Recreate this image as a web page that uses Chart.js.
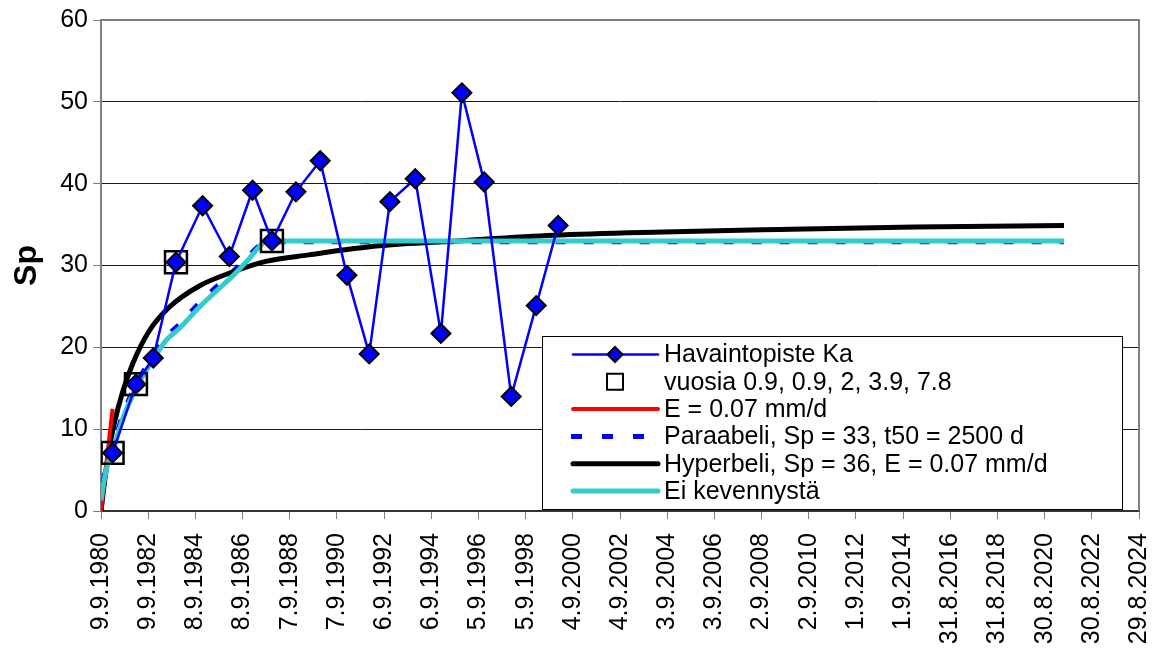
<!DOCTYPE html>
<html>
<head>
<meta charset="utf-8">
<script src="https://cdn.jsdelivr.net/npm/chart.js@4.4.1/dist/chart.umd.min.js"></script>
<style>
  html, body { margin: 0; padding: 0; background: #fff; }
  canvas { display: block; }
</style>
</head>
<body>
<canvas id="chart" width="1157" height="652"></canvas>
<script>
"use strict";

// x-akseli: vuorokausia 9.9.1980 jälkeen, jakoväli 730 d
const tickStep = 730;
const tickLabels = [
	"9.9.1980", "9.9.1982", "8.9.1984", "8.9.1986", "7.9.1988", "7.9.1990",
	"6.9.1992", "6.9.1994", "5.9.1996", "5.9.1998", "4.9.2000", "4.9.2002",
	"3.9.2004", "3.9.2006", "2.9.2008", "2.9.2010", "1.9.2012", "1.9.2014",
	"31.8.2016", "31.8.2018", "30.8.2020", "30.8.2022", "29.8.2024"
];

// Havaintopiste Ka
const obsDays = [179, 541, 809, 1160, 1572, 1985, 2345, 2645, 3016, 3392,
	3805, 4150, 4470, 4862, 5259, 5584, 5929, 6347, 6733, 7073];
const obsSp = [7.1, 15.5, 18.7, 30.4, 37.3, 31.1, 39.2, 33.0, 39.0, 42.8,
	28.8, 19.2, 37.8, 40.6, 21.7, 51.1, 40.2, 14.0, 25.1, 34.9];

// vuosia 0.9, 0.9, 2, 3.9, 7.8 (laatikot)
const boxDays = [179, 541, 1160, 2645];
const boxSp = [7.1, 15.5, 30.4, 33.0];

// E = 0.07 mm/d
const redDays = [0, 179];
const redSp = [0, 12.5];

// Paraabeli
const paraDays = [0, 50, 100, 179, 350, 541, 800, 1000, 1210, 1520, 1800, 2035, 2290, 2450, 2645, 14900];
const paraSp = [0, 4.2, 6.0, 7.8, 12.0, 15.4, 18.9, 21.2, 22.8, 25.4, 27.5, 29.2, 31.2, 32.4, 32.9, 32.9];

// Hyperbeli
const hypDays = [0, 30, 60, 128, 200, 333, 490, 745, 1055, 1520, 2035, 2550, 3220,
	4300, 5500, 7000, 8700, 10500, 12600, 14900];
const hypSp = [0, 2.0, 3.9, 7.6, 10.5, 14.5, 18.0, 22.0, 24.9, 27.5, 29.2, 30.5, 31.3,
	32.4, 33.0, 33.7, 34.1, 34.4, 34.7, 34.9];

// Ei kevennystä
const cyanDays = [0, 50, 100, 179, 350, 541, 800, 1000, 1210, 1520, 1800, 2035, 2290, 2450, 2560, 14900];
const cyanSp = [1.3, 3.8, 5.6, 7.3, 11.6, 15.0, 18.4, 20.8, 22.3, 24.9, 27.0, 28.7, 30.8, 32.3, 33.0, 33.0];

const FONT = "'Liberation Sans', Arial, sans-serif";

function pts(xs, ys) {
	return xs.map((x, i) => ({ x: x, y: ys[i] }));
}

// kuvaajan reunat
const frame = {
	id: 'frame',
	beforeDatasetsDraw(chart) {
		const a = chart.chartArea;
		const ctx = chart.ctx;
		ctx.save();
		ctx.strokeStyle = '#808080';
		ctx.lineWidth = 2;
		ctx.beginPath();
		ctx.moveTo(a.left, a.top);
		ctx.lineTo(a.right, a.top);
		ctx.lineTo(a.right, a.bottom);
		ctx.stroke();
		ctx.restore();
	}
};

// selite laatikossa kuvaajan sisällä
const boxLegend = {
	id: 'boxLegend',
	afterDraw(chart) {
		const ctx = chart.ctx;
		const x0 = 542, y0 = 336, w = 580, h = 173;
		ctx.save();
		ctx.fillStyle = '#fff';
		ctx.fillRect(x0, y0, w, h);
		ctx.strokeStyle = '#000';
		ctx.lineWidth = 1;
		ctx.strokeRect(x0 + 0.5, y0 + 0.5, w, h);

		ctx.font = '25px ' + FONT;
		ctx.textBaseline = 'middle';
		ctx.textAlign = 'left';
		chart.data.datasets.forEach((ds, i) => {
			const yc = 354.5 + i * 27.3;
			if (ds.showLine !== false) {
				ctx.strokeStyle = ds.borderColor;
				ctx.lineWidth = ds.borderWidth;
				ctx.lineCap = ds.borderDash ? 'butt' : 'round';
				ctx.setLineDash(ds.borderDash ? [11, 20] : []);
				ctx.beginPath();
				ctx.moveTo(ds.borderDash ? 571 : 573, yc);
				ctx.lineTo(658, yc);
				ctx.stroke();
				ctx.setLineDash([]);
			}
			if (ds.pointRadius > 0) {
				ctx.fillStyle = ds.pointBackgroundColor;
				ctx.strokeStyle = ds.pointBorderColor;
				ctx.lineWidth = 2;
				ctx.beginPath();
				if (ds.pointStyle === 'rectRot') {
					const r = 7.5;
					ctx.moveTo(615 - r, yc);
					ctx.lineTo(615, yc - r);
					ctx.lineTo(615 + r, yc);
					ctx.lineTo(615, yc + r);
					ctx.closePath();
					ctx.fill();
				} else {
					ctx.rect(607, yc - 8, 16, 16);
				}
				ctx.stroke();
			}
			ctx.fillStyle = '#000';
			ctx.fillText(ds.label, 664, yc + 1);
		});
		ctx.restore();
	}
};

new Chart(document.getElementById('chart').getContext('2d'), {
	type: 'scatter',
	data: {
		datasets: [{
			label: 'Havaintopiste Ka',
			data: pts(obsDays, obsSp),
			showLine: true,
			borderColor: '#0000ff',
			borderWidth: 2.5,
			pointStyle: 'rectRot',
			pointRadius: 9.5,
			pointBackgroundColor: '#0000ff',
			pointBorderColor: '#000',
			pointBorderWidth: 2,
			order: 0
		}, {
			label: 'vuosia 0.9, 0.9, 2, 3.9, 7.8',
			data: pts(boxDays, boxSp),
			showLine: false,
			pointStyle: 'rect',
			pointRadius: 15.5,
			pointBackgroundColor: 'rgba(0,0,0,0)',
			pointBorderColor: '#000',
			pointBorderWidth: 2.5,
			order: 1
		}, {
			label: 'E = 0.07 mm/d',
			data: pts(redDays, redSp),
			showLine: true,
			borderColor: '#ff0000',
			borderWidth: 4,
			pointRadius: 0,
			order: 3
		}, {
			label: 'Paraabeli, Sp = 33, t50 = 2500 d',
			data: pts(paraDays, paraSp),
			showLine: true,
			borderColor: '#0000ff',
			borderWidth: 5,
			borderDash: [10, 18],
			cubicInterpolationMode: 'monotone',
			pointRadius: 0,
			order: 5
		}, {
			label: 'Hyperbeli, Sp = 36, E = 0.07 mm/d',
			data: pts(hypDays, hypSp),
			showLine: true,
			borderColor: '#000000',
			borderWidth: 5,
			cubicInterpolationMode: 'monotone',
			pointRadius: 0,
			order: 4
		}, {
			label: 'Ei kevennystä',
			data: pts(cyanDays, cyanSp),
			showLine: true,
			borderColor: '#33cccc',
			borderWidth: 5,
			cubicInterpolationMode: 'monotone',
			pointRadius: 0,
			order: 2
		}]
	},
	options: {
		responsive: false,
		animation: false,
		layout: { padding: { top: 17, right: 17, left: 0, bottom: 0 } },
		plugins: {
			legend: { display: false },
			tooltip: { enabled: false }
		},
		scales: {
			x: {
				type: 'linear',
				min: 0,
				max: (tickLabels.length - 1) * tickStep,
				afterBuildTicks: (scale) => {
					scale.ticks = tickLabels.map((_, i) => ({ value: i * tickStep }));
				},
				afterFit: (scale) => {
					scale.height = 141;
					scale.paddingLeft = 0;
					scale.paddingRight = 0;
				},
				ticks: {
					autoSkip: false,
					minRotation: 90,
					maxRotation: 90,
					padding: 14,
					color: '#000',
					font: { size: 25, family: FONT },
					callback: (value, index) => tickLabels[index]
				},
				grid: { drawOnChartArea: false, tickLength: 8, color: '#808080' },
				border: { color: '#333333', width: 2 }
			},
			y: {
				min: 0,
				max: 60,
				afterFit: (scale) => { scale.width = 101; },
				ticks: {
					stepSize: 10,
					padding: 5,
					color: '#000',
					font: { size: 25, family: FONT }
				},
				grid: { color: '#1a1a1a', lineWidth: 1, tickLength: 8, tickColor: '#808080' },
				border: { color: '#808080', width: 2 },
				title: {
					display: true,
					text: 'Sp',
					color: '#000',
					padding: { top: 8, bottom: 0 },
					font: { size: 32, weight: 'bold', family: FONT }
				}
			}
		}
	},
	plugins: [frame, boxLegend]
});
</script>
</body>
</html>
